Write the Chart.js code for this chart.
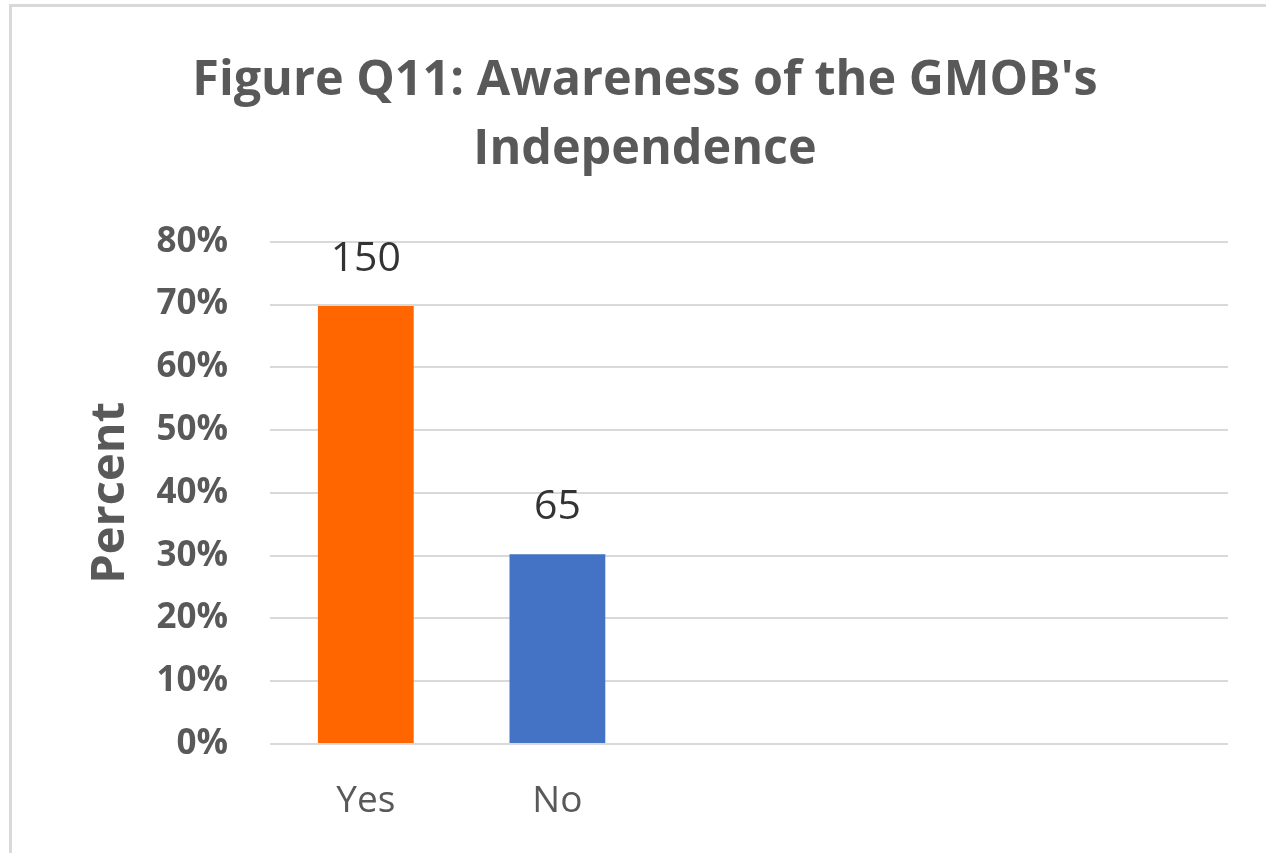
<!DOCTYPE html>
<html>
<head>
<meta charset="utf-8">
<script src="https://cdn.jsdelivr.net/npm/chart.js@4.4.1/dist/chart.umd.min.js"></script>
<style>
  html, body { margin: 0; padding: 0; background: #fff; overflow: hidden; }
  #wrap { position: relative; width: 1266px; height: 853px; }
  #frame {
    position: absolute; left: 9px; top: 4px; width: 1300px; height: 900px;
    border-top: 3px solid #d9d9d9; border-left: 3px solid #d9d9d9;
    pointer-events: none;
  }
  #awareness { position: absolute; left: 0; top: 0; }
</style>
</head>
<body>
<div id="wrap">
  <div id="frame"></div>
  <canvas id="awareness" width="1266" height="853"></canvas>
</div>
<script>
// Survey answers, last three slots left empty as in the source sheet
const categories = ['Yes', 'No', '', '', ''];
const counts = [150, 65];
const barColors = ['#ff6600', '#4472c4'];
const yTicks = [0, 10, 20, 30, 40, 50, 60, 70, 80];

const total = counts.reduce((a, b) => a + b, 0);
const percents = categories.map((c, i) => i < counts.length ? counts[i] / total * 100 : null);

const FONT = "'Open Sans', 'Noto Sans', sans-serif";
const GREY = '#595959';

// write the raw count above each bar
const countLabels = {
    id: 'countLabels',
    afterDatasetsDraw(chart) {
        const ctx = chart.ctx;
        const meta = chart.getDatasetMeta(0);
        ctx.save();
        ctx.font = '41px ' + FONT;
        ctx.fillStyle = '#333333';
        ctx.textAlign = 'center';
        ctx.textBaseline = 'middle';
        meta.data.forEach((bar, i) => {
            if (i >= counts.length) return;
            ctx.fillText(String(counts[i]), bar.x, bar.y - 47);
        });
        ctx.restore();
    }
};

new Chart(document.getElementById('awareness'), {
    type: 'bar',
    data: {
        labels: categories,
        datasets: [{
            data: percents,
            backgroundColor: barColors,
            borderWidth: 0,
            barPercentage: 0.5,
            categoryPercentage: 1
        }]
    },
    options: {
        responsive: false,
        animation: false,
        events: [],
        layout: { padding: { left: 62, right: 38, top: 47, bottom: 0 } },
        plugins: {
            legend: { display: false },
            tooltip: { enabled: false },
            title: {
                display: true,
                text: ["Figure Q11: Awareness of the GMOB's", 'Independence'],
                color: GREY,
                font: { family: FONT, size: 48.5, weight: 'bold', lineHeight: 1.42 },
                padding: { top: 0, bottom: 57 }
            }
        },
        scales: {
            x: {
                grid: { display: false },
                border: { display: false },
                ticks: { color: GREY, font: { family: FONT, size: 37 }, padding: 27 },
                afterFit(scale) { scale.height = 109; }
            },
            y: {
                min: 0,
                max: 80,
                afterBuildTicks(scale) { scale.ticks = yTicks.map(v => ({ value: v })); },
                grid: { color: '#d9d9d9', lineWidth: 2, drawTicks: false },
                border: { display: false },
                ticks: {
                    color: GREY,
                    font: { family: FONT, size: 35, weight: 'bold' },
                    padding: 42,
                    callback: v => v + '%'
                },
                title: {
                    display: true,
                    text: 'Percent',
                    color: GREY,
                    font: { family: FONT, size: 47, weight: 'bold' },
                    padding: { top: 20, bottom: 0 }
                },
                afterFit(scale) { scale.width = 208; }
            }
        }
    },
    plugins: [countLabels]
});
</script>
</body>
</html>
